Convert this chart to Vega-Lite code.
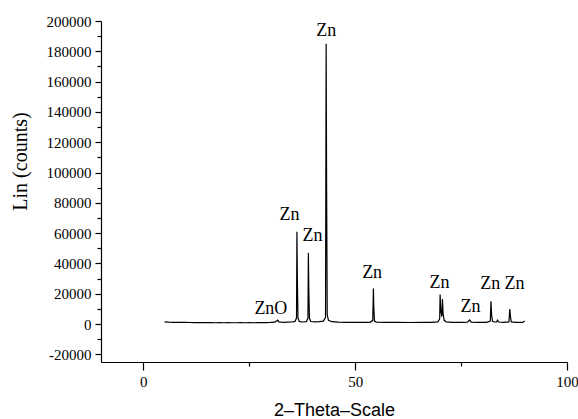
{
  "$schema": "https://vega.github.io/schema/vega-lite/v6.json",
  "autosize": {"type": "none"},
  "width": 466,
  "height": 341,
  "padding": {"left": 101, "top": 21, "right": 11, "bottom": 57},
  "background": "white",
  "config": {"view": {"stroke": null}, "axis": {"grid": false, "labelOverlap": false, "labelFlush": false}},
  "resolve": {"axis": {"x": "independent", "y": "independent"}},
  "datasets": {
    "xrd": [
      {"theta": 5, "counts": 1500}, {"theta": 6, "counts": 1300}, {"theta": 7, "counts": 1200}, {"theta": 8, "counts": 1150},
      {"theta": 9, "counts": 1100}, {"theta": 10, "counts": 1100}, {"theta": 11, "counts": 1050}, {"theta": 12, "counts": 1000},
      {"theta": 13, "counts": 1000}, {"theta": 14, "counts": 950}, {"theta": 15, "counts": 1000}, {"theta": 16, "counts": 950},
      {"theta": 17, "counts": 900}, {"theta": 18, "counts": 950}, {"theta": 19, "counts": 900}, {"theta": 20, "counts": 950},
      {"theta": 21, "counts": 900}, {"theta": 22, "counts": 900}, {"theta": 23, "counts": 950}, {"theta": 24, "counts": 900},
      {"theta": 25, "counts": 950}, {"theta": 26, "counts": 900}, {"theta": 27, "counts": 950}, {"theta": 28, "counts": 1000},
      {"theta": 29, "counts": 1000}, {"theta": 30, "counts": 1100}, {"theta": 31, "counts": 1300}, {"theta": 31.7, "counts": 2600},
      {"theta": 32, "counts": 1500}, {"theta": 32.5, "counts": 1300}, {"theta": 33, "counts": 1200}, {"theta": 34, "counts": 1300},
      {"theta": 35, "counts": 1400}, {"theta": 35.8, "counts": 1800}, {"theta": 36.15, "counts": 4000}, {"theta": 36.25, "counts": 61000},
      {"theta": 36.35, "counts": 30000}, {"theta": 36.5, "counts": 4000}, {"theta": 36.8, "counts": 1800}, {"theta": 37.5, "counts": 1400},
      {"theta": 38.5, "counts": 1600}, {"theta": 38.85, "counts": 4000}, {"theta": 38.95, "counts": 47000}, {"theta": 39.05, "counts": 24000},
      {"theta": 39.2, "counts": 4000}, {"theta": 39.5, "counts": 1700}, {"theta": 40.5, "counts": 1500}, {"theta": 41.5, "counts": 1600},
      {"theta": 42.5, "counts": 2000}, {"theta": 43.0, "counts": 4500}, {"theta": 43.15, "counts": 185000}, {"theta": 43.25, "counts": 94000},
      {"theta": 43.4, "counts": 6000}, {"theta": 43.7, "counts": 2500}, {"theta": 44.5, "counts": 1600}, {"theta": 46, "counts": 1300},
      {"theta": 48, "counts": 1200}, {"theta": 50, "counts": 1150}, {"theta": 52, "counts": 1100}, {"theta": 53.5, "counts": 1200},
      {"theta": 54.15, "counts": 2500}, {"theta": 54.3, "counts": 23500}, {"theta": 54.4, "counts": 11000}, {"theta": 54.55, "counts": 2000},
      {"theta": 55, "counts": 1300}, {"theta": 57, "counts": 1100}, {"theta": 60, "counts": 1100}, {"theta": 63, "counts": 1050},
      {"theta": 66, "counts": 1100}, {"theta": 68, "counts": 1100}, {"theta": 69.5, "counts": 1500}, {"theta": 69.95, "counts": 3500},
      {"theta": 70.05, "counts": 19500}, {"theta": 70.2, "counts": 9000}, {"theta": 70.45, "counts": 5000}, {"theta": 70.6, "counts": 16500},
      {"theta": 70.75, "counts": 7000}, {"theta": 71, "counts": 2500}, {"theta": 71.5, "counts": 1500}, {"theta": 73, "counts": 1200},
      {"theta": 75, "counts": 1100}, {"theta": 76.5, "counts": 1300}, {"theta": 77, "counts": 2700}, {"theta": 77.4, "counts": 1300},
      {"theta": 79, "counts": 1100}, {"theta": 81, "counts": 1200}, {"theta": 81.9, "counts": 2000}, {"theta": 82.05, "counts": 15000},
      {"theta": 82.2, "counts": 6500}, {"theta": 82.4, "counts": 2000}, {"theta": 82.8, "counts": 1400}, {"theta": 83.4, "counts": 1500},
      {"theta": 83.6, "counts": 2600}, {"theta": 83.9, "counts": 1400}, {"theta": 85, "counts": 1200}, {"theta": 86.3, "counts": 1500},
      {"theta": 86.5, "counts": 10000}, {"theta": 86.65, "counts": 5000}, {"theta": 86.85, "counts": 1500}, {"theta": 88, "counts": 1100},
      {"theta": 89.5, "counts": 1100}, {"theta": 89.8, "counts": 1500}, {"theta": 90, "counts": 2200}
    ],
    "labels": [
      {"theta": 43.2, "counts": 193500, "label": "Zn"},
      {"theta": 34.5, "counts": 72200, "label": "Zn"},
      {"theta": 39.9, "counts": 58000, "label": "Zn"},
      {"theta": 30.1, "counts": 10000, "label": "ZnO"},
      {"theta": 54.0, "counts": 33500, "label": "Zn"},
      {"theta": 69.9, "counts": 26900, "label": "Zn"},
      {"theta": 77.2, "counts": 11100, "label": "Zn"},
      {"theta": 81.9, "counts": 26200, "label": "Zn"},
      {"theta": 87.6, "counts": 26200, "label": "Zn"}
    ]
  },
  "layer": [
    {
      "data": {"name": "xrd"},
      "mark": {"type": "line", "color": "black", "strokeWidth": 1.2, "clip": true},
      "encoding": {
        "x": {
          "field": "theta", "type": "quantitative",
          "scale": {"domain": [-10, 100], "nice": false, "zero": false},
          "axis": {
            "orient": "bottom",
            "title": "2–Theta–Scale",
            "titleFont": "Liberation Sans", "titleFontSize": 18, "titleFontWeight": "normal", "titleColor": "black",
            "titleY": 48, "titleBaseline": "middle",
            "values": [0, 50, 100],
            "labelFont": "Liberation Serif", "labelFontSize": 15, "labelColor": "black", "labelPadding": 4,
            "domainColor": "black", "domainWidth": 1.2,
            "tickColor": "black", "tickWidth": 1.2, "tickSize": 8
          }
        },
        "y": {
          "field": "counts", "type": "quantitative",
          "scale": {"domain": [-25000, 200000], "nice": false, "zero": false},
          "axis": {
            "orient": "left",
            "title": "Lin (counts)",
            "titleFont": "Liberation Serif", "titleFontSize": 20, "titleFontWeight": "normal", "titleColor": "black",
            "titleX": -81, "titleY": 140, "titleAngle": -90, "titleAlign": "center", "titleBaseline": "middle",
            "values": [-20000, 0, 20000, 40000, 60000, 80000, 100000, 120000, 140000, 160000, 180000, 200000],
            "labelExpr": "'' + datum.value",
            "labelFont": "Liberation Serif", "labelFontSize": 15, "labelColor": "black", "labelPadding": 4,
            "domainColor": "black", "domainWidth": 1.2,
            "tickColor": "black", "tickWidth": 1.2, "tickSize": 6
          }
        }
      }
    },
    {
      "data": {"name": "labels"},
      "mark": {"type": "text", "font": "Liberation Serif", "fontSize": 18, "color": "black", "align": "center", "baseline": "middle"},
      "encoding": {
        "x": {
          "field": "theta", "type": "quantitative",
          "axis": {"orient": "bottom", "title": null, "labels": false, "domain": false, "values": [25, 75], "tickColor": "black", "tickWidth": 1.2, "tickSize": 4}
        },
        "y": {
          "field": "counts", "type": "quantitative",
          "axis": {"orient": "left", "title": null, "labels": false, "domain": false,
            "values": [-10000, 10000, 30000, 50000, 70000, 90000, 110000, 130000, 150000, 170000, 190000],
            "tickColor": "black", "tickWidth": 1.2, "tickSize": 4}
        },
        "text": {"field": "label"}
      }
    }
  ]
}
